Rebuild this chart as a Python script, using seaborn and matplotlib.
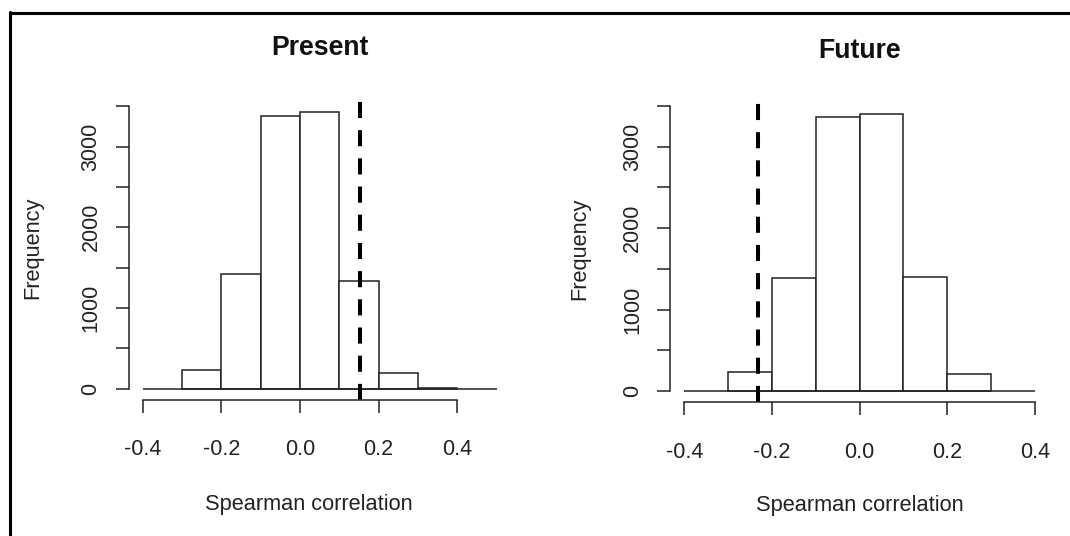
import numpy as np
import pandas as pd
import matplotlib
matplotlib.use("Agg")
import matplotlib.pyplot as plt
from matplotlib.lines import Line2D
import seaborn as sns

# ---- data ----
present_edges = [-0.3, -0.2, -0.1, 0.0, 0.1, 0.2, 0.3, 0.4]
present_counts = [232, 1421, 3380, 3430, 1331, 198, 12]
present_observed = 0.153

future_edges = [-0.3, -0.2, -0.1, 0.0, 0.1, 0.2, 0.3]
future_counts = [229, 1391, 3361, 3405, 1404, 213]
future_observed = -0.231

titles = ["Present", "Future"]
x_label = "Spearman correlation"
y_label = "Frequency"
x_ticks = [-0.4, -0.2, 0.0, 0.2, 0.4]
x_tick_labels = ["-0.4", "-0.2", "0.0", "0.2", "0.4"]
y_ticks = [0, 500, 1000, 1500, 2000, 2500, 3000, 3500]
y_tick_labels = ["0", "", "1000", "", "2000", "", "3000", ""]
present_xrange = (-0.4, 0.5)
future_xrange = (-0.4, 0.4)
y_range = (0, 3500)

sns.set_style("white")
plt.rcParams["font.family"] = ["Liberation Sans", "DejaVu Sans"]

ink = "#222222"
fig = plt.figure(figsize=(10.7, 5.36), dpi=100)
fig.patch.set_facecolor("white")

ax_positions = [
    [0.1201, 0.2537, 0.3573, 0.5692],
    [0.6264, 0.2493, 0.3539, 0.5743],
]
panels = [
    (present_edges, present_counts, present_observed, present_xrange),
    (future_edges, future_counts, future_observed, future_xrange),
]
title_y = [1.131, 1.118]
xlabel_pos = [(0.4706, -0.308), (0.5, -0.301)]
ylabel_pos = [(-0.223, 0.5), (-0.212, 0.5)]


def r_pad(lo, hi):
    d = (hi - lo) * 0.04
    return lo - d, hi + d


for i, (edges, counts, obs, xr) in enumerate(panels):
    ax = fig.add_axes(ax_positions[i])
    edges_a = np.array(edges)
    centers = (edges_a[:-1] + edges_a[1:]) / 2
    df = pd.DataFrame({"r": centers, "n": counts})
    sns.histplot(data=df, x="r", weights="n", bins=edges, ax=ax,
                 color="white", edgecolor=ink, linewidth=1.1, alpha=1.0)
    ax.hlines(0, xr[0], xr[1], color=ink, linewidth=1.1)
    ax.axvline(obs, color="black", linewidth=2.9, dashes=(4, 3))

    ax.set_xlim(*r_pad(*xr))
    ax.set_ylim(*r_pad(*y_range))
    for s in ["top", "right"]:
        ax.spines[s].set_visible(False)
    for s in ["left", "bottom"]:
        ax.spines[s].set_color(ink)
        ax.spines[s].set_linewidth(1.1)
    ax.spines["left"].set_bounds(y_range[0], y_range[1])
    ax.spines["bottom"].set_bounds(x_ticks[0], x_ticks[-1])

    ax.set_xticks(x_ticks)
    ax.set_xticklabels(x_tick_labels)
    ax.set_yticks(y_ticks)
    ax.set_yticklabels(y_tick_labels)
    ax.tick_params(axis="x", length=9.4, width=1.1, color=ink, pad=19.0,
                   labelsize=15.5, labelcolor=ink, direction="out", bottom=True)
    ax.tick_params(axis="y", length=9.4, width=1.1, color=ink, pad=10.0,
                   labelsize=15.5, labelcolor=ink, direction="out", left=True)
    for lab in ax.get_yticklabels():
        lab.set_rotation(90)
        lab.set_va("center")
        lab.set_ha("right")

    ax.set_xlabel(x_label, fontsize=15.7, color=ink)
    ax.set_ylabel(y_label, fontsize=15.7, color=ink)
    ax.xaxis.set_label_coords(*xlabel_pos[i])
    ax.yaxis.set_label_coords(*ylabel_pos[i])
    ax.set_title(titles[i], fontsize=19.2, fontweight="bold", color="#111111",
                 y=title_y[i], pad=0)
    ax.grid(False)

# frame lines (top and left) seen in the reference
fig.add_artist(Line2D([10 / 1070, 1.0], [1 - 13.2 / 536, 1 - 13.2 / 536],
                      color="black", linewidth=2.2, transform=fig.transFigure))
fig.add_artist(Line2D([10.3 / 1070, 10.3 / 1070], [0.0, 1 - 12 / 536],
                      color="black", linewidth=2.2, transform=fig.transFigure))

fig.savefig("out.png", dpi=100)
